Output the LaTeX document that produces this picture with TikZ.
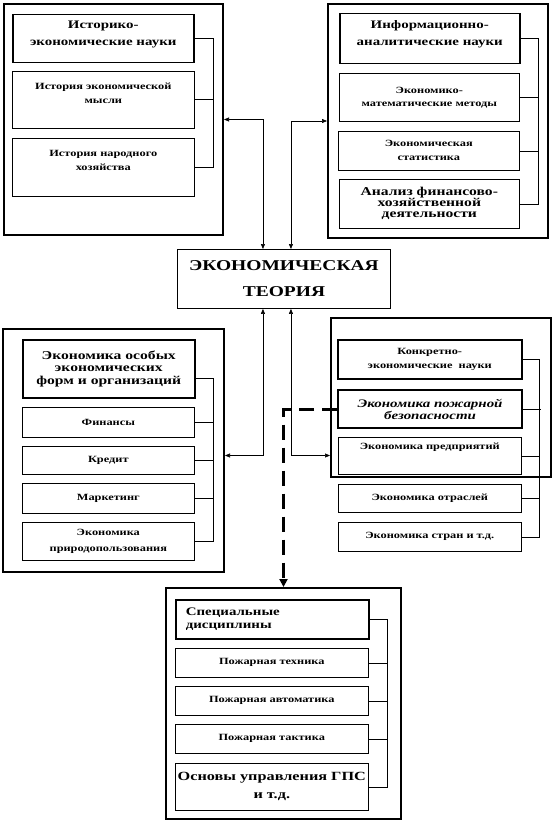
\documentclass[tikz,border=0pt]{standalone}
\usepackage{fontspec}
\setmainfont{Liberation Serif}[FakeStretch=1.3]
\usetikzlibrary{arrows.meta}
\tikzset{
  wh/.style 2 args={minimum width=#1pt, minimum height=#2pt},
  ramka/.style={draw, line width=2pt, anchor=north west, inner sep=0pt},
  zag/.style={draw, line width=1.5pt, anchor=north west, align=center, inner sep=1pt, font=\fontsize{11.5}{17}\selectfont\bfseries},
  punkt/.style={draw, line width=0.6pt, anchor=north west, align=center, inner sep=1pt, font=\fontsize{9.5}{14}\selectfont\bfseries},
  strelka/.style={line width=0.6pt, {Triangle[length=5pt,width=4pt]}-{Triangle[length=5pt,width=4pt]}},
  pun/.style={line width=3pt, dash pattern=on 15pt off 8pt, -{Triangle[length=8pt,width=8pt]}},
}
\begin{document}
\begin{tikzpicture}[x=1pt,y=-1pt,line width=0.6pt]
	\useasboundingbox (0,0) rectangle (553,824);
	%Рамки
	\node[ramka, wh={219}{231}] (fTL) at (3,3) {};
	\node[ramka, wh={220}{234}] (fTR) at (327,3) {};
	\node[ramka, wh={221}{243}] (fBL) at (2,328) {};
	\node[ramka, wh={220}{159}] (fBR) at (330,317) {};
	\node[ramka, wh={235}{231}] (fSp) at (165,587) {};
	%Центр
	\node[draw, line width=0.9pt, anchor=north west, wh={213}{59}, align=center,
		font=\fontsize{15}{26}\selectfont\bfseries] (theo) at (177,249) {ЭКОНОМИЧЕСКАЯ\\ТЕОРИЯ};
	%Историко-экономические науки
	\node[zag, wh={181}{48}] (ihead) at (12,14) {Историко-\\экономические науки\\[-5pt]};
	\node[punkt, wh={182}{57}] (imysl) at (12,71) {История экономической\\мысли\\};
	\node[punkt, wh={182}{58}] (ihoz) at (12,138) {История народного\\хозяйства\\};
	%Информационно-аналитические науки
	\node[zag, wh={180}{50}] (ahead) at (339,13) {Информационно-\\аналитические науки\\[-5pt]};
	\node[punkt, wh={180}{48}, font=\fontsize{9.5}{13}\selectfont\bfseries] (amat) at (339,73) {Экономико-\\математические методы};
	\node[punkt, wh={181}{39}] (astat) at (338,131) {Экономическая\\статистика};
	\node[punkt, wh={180}{49}, font=\fontsize{12}{11}\selectfont\bfseries] (afin) at (339,179) {Анализ финансово-\\хозяйственной\\деятельности};
	%Экономика особых форм
	\node[zag, wh={172}{58}, font=\fontsize{12}{12.5}\selectfont\bfseries] (ohead) at (22,339) {Экономика особых\\экономических\\форм и организаций};
	\node[punkt, wh={172}{30}] (ofin) at (22,407) {Финансы};
	\node[punkt, wh={172}{28}] (okred) at (22,446) {Кредит};
	\node[punkt, wh={172}{30}] (omark) at (22,483) {Маркетинг};
	\node[punkt, wh={172}{38}, font=\fontsize{9.5}{16}\selectfont\bfseries] (opriro) at (22,522) {Экономика\\природопользования};
	%Конкретно-экономические науки
	\node[punkt, line width=1.5pt, wh={184}{39}] (khead) at (337,339) {Конкретно-\\экономические\ \ науки};
	\node[punkt, line width=2.2pt, wh={184}{38}, font=\fontsize{11.5}{12}\selectfont\bfseries\itshape] (pb) at (337,389) {Экономика пожарной\\безопасности};
	\node[punkt, wh={183}{37}, text depth=20pt] (kpred) at (338,437) {Экономика предприятий};
	\node[punkt, wh={183}{28}] (kotr) at (338,484) {Экономика отраслей};
	\node[punkt, wh={183}{29}] (kstr) at (338,522) {Экономика стран и т.д.};
	%Специальные дисциплины
	\node[zag, wh={193}{39}, align=left, text width=173pt, inner xsep=10pt, font=\fontsize{11.5}{13}\selectfont\bfseries] (shead) at (175,599) {Специальные\\дисциплины};
	\node[punkt, wh={193}{29}] (stech) at (175,648) {Пожарная техника};
	\node[punkt, wh={193}{29}] (sauto) at (175,686) {Пожарная автоматика};
	\node[punkt, wh={193}{29}] (stakt) at (175,724) {Пожарная тактика};
	\node[punkt, wh={193}{47}, font=\fontsize{12.5}{18}\selectfont\bfseries] (sosn) at (175,763) {Основы управления ГПС\\и т.д.};
	%Скобки
	\draw (ihead.east) -| ([xshift=19pt]ihoz.east) -- (ihoz.east);
	\draw (imysl.east) -- ++(19,0);
	\draw (ahead.east) -| ([xshift=19pt]afin.east) -- (afin.east);
	\draw (amat.east) -- ++(19,0);
	\draw (astat.east) -- ++(19,0);
	\draw ([yshift=-10pt]ohead.east) -| ([xshift=19pt]opriro.east) -- (opriro.east);
	\draw (ofin.east) -- ++(19,0);
	\draw (okred.east) -- ++(19,0);
	\draw (omark.east) -- ++(19,0);
	\draw (khead.east) -| ([xshift=18pt]kstr.east) -- (kstr.east);
	\draw (pb.east) -- ++(18,0);
	\draw (kpred.east) -- ++(18,0);
	\draw (kotr.east) -- ++(18,0);
	\draw (shead.east) -| ([xshift=19pt]sosn.east) -- (sosn.east);
	\draw (stech.east) -- ++(19,0);
	\draw (sauto.east) -- ++(19,0);
	\draw (stakt.east) -- ++(19,0);
	%Стрелки к теории
	\coordinate (mL) at ([yshift=-5pt]fBL.east);
	\draw[strelka] (fTL.east) -| ([xshift=-21pt]theo.north);
	\draw[strelka] (fTR.west) -| ([xshift=7pt]theo.north);
	\draw[strelka] (mL) -| ([xshift=-21pt]theo.south);
	\draw[strelka] (mL -| fBR.west) -| ([xshift=7pt]theo.south);
	%Пунктир
	\draw[pun] (pb.west) -| (fSp.north);
\end{tikzpicture}
\end{document}
